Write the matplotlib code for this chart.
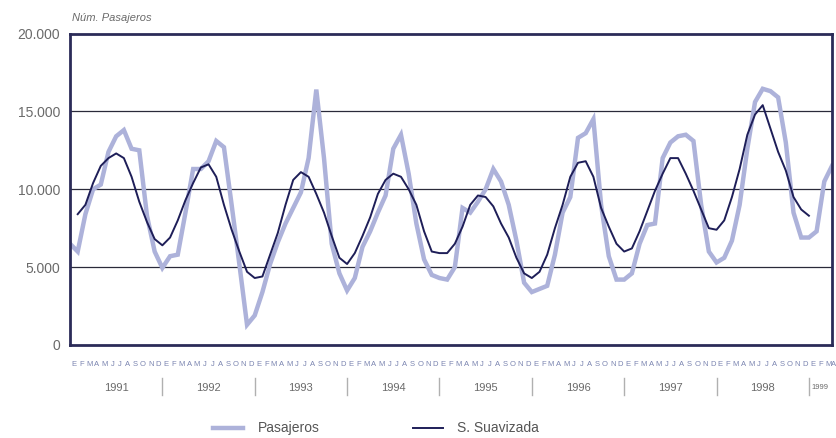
import matplotlib
matplotlib.use("Agg")
import matplotlib.pyplot as plt
from matplotlib.lines import Line2D

plt.rcParams['font.family'] = ['Liberation Sans', 'DejaVu Sans']

# datos mensuales, enero 1991 en adelante
pasajeros = [6500, 6000, 8400, 10000, 10300, 12400, 13400, 13800, 12600, 12500, 8300, 6000,
             4950, 5700, 5800, 8500, 11300, 11300, 11800, 13100, 12700, 9000, 5200, 1300,
             1900, 3400, 5200, 6600, 7800, 8800, 9800, 12000, 16400, 12000, 6500, 4600,
             3500, 4300, 6300, 7300, 8500, 9600, 12600, 13500, 11000, 7800, 5500, 4500,
             4300, 4200, 5000, 8800, 8500, 9200, 10000, 11300, 10500, 9000, 6700, 4000,
             3400, 3600, 3800, 5800, 8500, 9500, 13300, 13600, 14500, 9000, 5700, 4200,
             4200, 4600, 6500, 7700, 7800, 12000, 13000, 13400, 13500, 13100, 9000, 6000,
             5300, 5600, 6700, 9000, 12600, 15600, 16450, 16300, 15900, 13000, 8500, 6900,
             6900, 7300, 10500, 11500]

suavizada = [8400, 9000, 10400, 11500, 12000, 12300, 12000, 10800, 9200, 7900, 6800,
             6400, 6900, 8000, 9300, 10400, 11400, 11600, 10800, 9000, 7400, 6000, 4700,
             4300, 4400, 5800, 7200, 9000, 10600, 11100, 10800, 9700, 8500, 7000, 5600,
             5200, 5900, 7000, 8200, 9700, 10600, 11000, 10800, 10000, 9000, 7300, 6000,
             5900, 5900, 6500, 7600, 9000, 9600, 9500, 8900, 7800, 6900, 5600, 4600,
             4300, 4700, 5800, 7500, 9000, 10800, 11700, 11800, 10800, 8800, 7600, 6500,
             6000, 6200, 7300, 8600, 9900, 11000, 12000, 12000, 11000, 9900, 8700, 7500,
             7400, 8000, 9500, 11300, 13500, 14800, 15400, 13900, 12400, 11200, 9500, 8700,
             8300]
suav_start = 1

meses = list("EFMAMJJASOND")
anios = ["1991", "1992", "1993", "1994", "1995", "1996", "1997", "1998", "1999"]
n_meses = 99

frame_col = "#2b2b58"
light_col = "#adb2da"
dark_col = "#1e1e58"
text_col = "#6a6a6a"

fig = plt.figure(figsize=(8.36, 4.38), dpi=100)
ax = fig.add_axes([70/836, 1-345/438, 762/836, 311.5/438])

for yv in [5000, 10000, 15000]:
    ax.axhline(yv, color="#2a2a3a", lw=0.9, zorder=1)

ax.plot(range(len(pasajeros)), pasajeros, color=light_col, lw=3.2, zorder=2,
        solid_joinstyle="miter")
ax.plot(range(suav_start, suav_start+len(suavizada)), suavizada, color=dark_col,
        lw=1.4, zorder=3)

ax.set_xlim(0, n_meses)
ax.set_ylim(0, 20000)
ax.set_xticks([])
ax.set_yticks([0, 5000, 10000, 15000, 20000])
ax.set_yticklabels(["0", "5.000", "10.000", "15.000", "20.000"], color=text_col, fontsize=10)
ax.tick_params(axis="y", length=0, pad=7)
for s in ax.spines.values():
    s.set_color(frame_col)
    s.set_linewidth(2)

ax.text(0.003, 1.05, "Núm. Pasajeros", transform=ax.transAxes, style="italic",
        fontsize=8, color=text_col, va="center", ha="left")

trans = ax.get_xaxis_transform()
# letras de los meses (la ultima queda pegada al borde)
for i in range(n_meses + 1):
    ax.text(min(i + 0.5, n_meses + 0.25), -0.064, meses[i % 12], transform=trans,
            ha="center", va="center", fontsize=5.5, color="#7a84b0", clip_on=False)

# años y separadores
for k, a in enumerate(anios):
    start = 12 * k
    end = min(12 * (k + 1), n_meses)
    fs = 8 if end - start == 12 else 5.5
    ax.text((start + end) / 2, -0.138, a, transform=trans, ha="center", va="center",
            fontsize=fs, color=text_col, clip_on=False)
    if k > 0:
        ax.add_line(Line2D([start, start], [-0.106, -0.162], transform=trans,
                           color="#b0b0b0", lw=1, clip_on=False))

# leyenda
ly = 1 - 428/438
fig.add_artist(Line2D([213/836, 243/836], [ly, ly], color=light_col, lw=3.2))
fig.text(258/836, ly, "Pasajeros", fontsize=10, color="#555555", va="center")
fig.add_artist(Line2D([413/836, 443/836], [ly, ly], color=dark_col, lw=1.4))
fig.text(457/836, ly, "S. Suavizada", fontsize=10, color="#555555", va="center")

fig.savefig("out.png", dpi=100)
